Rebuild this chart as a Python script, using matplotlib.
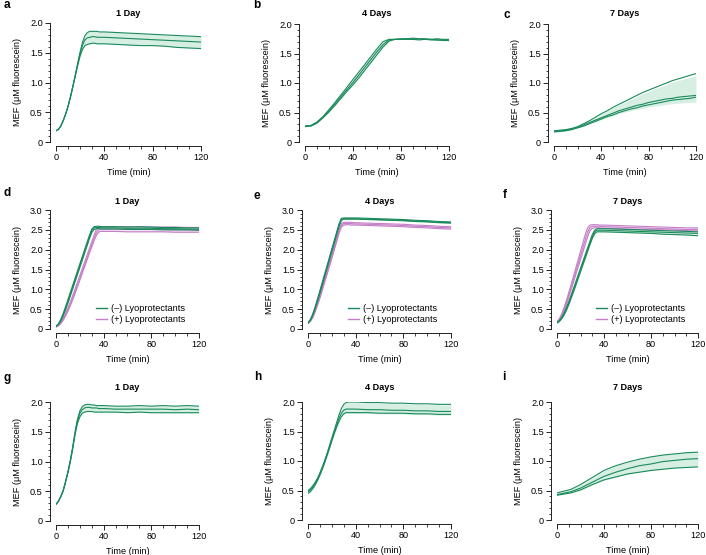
import numpy as np
import matplotlib
matplotlib.use("Agg")
import matplotlib.pyplot as plt
from matplotlib.ticker import MultipleLocator
from matplotlib.lines import Line2D

plt.rcParams['font.family'] = ['Liberation Sans', 'DejaVu Sans']

# ---------------- data ----------------
t_fast = [0, 2, 4, 6, 8, 10, 12, 14, 16, 18, 20, 22, 24, 26, 28, 30, 32, 34, 36, 38,
          40, 50, 60, 70, 80, 90, 100, 110, 120]
t_slow = [0, 5, 10, 15, 20, 25, 30, 35, 40, 45, 50, 55, 60, 65, 70, 75, 80, 85, 90,
          95, 100, 105, 110, 115, 120]
t_i = [0, 12, 20, 30, 40, 50, 60, 70, 80, 90, 100, 110, 120]

titles = ["1 Day", "4 Days", "7 Days"]
letters = ["a", "b", "c", "d", "e", "f", "g", "h", "i"]
legend_labels = ["(\u2013) Lyoprotectants", "(+) Lyoprotectants"]

# panel a
a_rep1 = [0.19, 0.21, 0.27, 0.36, 0.47, 0.60, 0.76, 0.94, 1.13, 1.33, 1.52, 1.68, 1.79, 1.84, 1.86, 1.86, 1.86, 1.86, 1.85, 1.85,
          1.85, 1.84, 1.83, 1.82, 1.81, 1.80, 1.79, 1.78, 1.77]
a_rep2 = [0.19, 0.21, 0.27, 0.36, 0.47, 0.60, 0.76, 0.94, 1.12, 1.31, 1.49, 1.63, 1.72, 1.75, 1.76, 1.77, 1.77, 1.76, 1.76, 1.76,
          1.76, 1.75, 1.74, 1.73, 1.72, 1.71, 1.70, 1.69, 1.68]
a_rep3 = [0.19, 0.21, 0.27, 0.36, 0.47, 0.60, 0.76, 0.93, 1.11, 1.29, 1.45, 1.56, 1.62, 1.64, 1.65, 1.66, 1.66, 1.65, 1.65, 1.65,
          1.65, 1.64, 1.63, 1.62, 1.62, 1.61, 1.59, 1.58, 1.57]
# panel b
b_rep1 = [0.27, 0.28, 0.34, 0.43, 0.55, 0.67, 0.80, 0.93, 1.06, 1.19, 1.32, 1.45, 1.58, 1.70, 1.74, 1.74, 1.75, 1.75, 1.76,
          1.75, 1.75, 1.74, 1.75, 1.74, 1.74]
b_rep2 = [0.27, 0.28, 0.33, 0.42, 0.53, 0.65, 0.77, 0.89, 1.01, 1.14, 1.27, 1.40, 1.53, 1.65, 1.73, 1.74, 1.74, 1.75, 1.74,
          1.75, 1.74, 1.74, 1.73, 1.73, 1.73]
b_rep3 = [0.26, 0.27, 0.32, 0.41, 0.51, 0.62, 0.74, 0.86, 0.97, 1.09, 1.22, 1.35, 1.48, 1.61, 1.71, 1.74, 1.74, 1.74, 1.74,
          1.73, 1.74, 1.73, 1.73, 1.72, 1.72]
# panel c
c_rep1 = [0.19, 0.20, 0.21, 0.23, 0.26, 0.31, 0.36, 0.42, 0.48, 0.53, 0.59, 0.64, 0.69, 0.74, 0.79, 0.84, 0.88, 0.92, 0.96,
          1.00, 1.04, 1.07, 1.10, 1.13, 1.16]
c_rep2 = [0.18, 0.19, 0.20, 0.22, 0.25, 0.29, 0.33, 0.37, 0.41, 0.45, 0.49, 0.53, 0.56, 0.59, 0.62, 0.64, 0.67, 0.69, 0.71,
          0.73, 0.74, 0.76, 0.77, 0.78, 0.79]
c_rep3 = [0.17, 0.18, 0.19, 0.21, 0.24, 0.27, 0.31, 0.35, 0.39, 0.43, 0.46, 0.50, 0.53, 0.56, 0.58, 0.61, 0.63, 0.65, 0.67,
          0.69, 0.71, 0.72, 0.73, 0.74, 0.76]
# panel d
d_minus1 = [0.07, 0.13, 0.24, 0.39, 0.56, 0.74, 0.92, 1.10, 1.28, 1.46, 1.64, 1.82, 2.00, 2.18, 2.36, 2.52, 2.58, 2.59, 2.59, 2.58,
            2.58, 2.58, 2.57, 2.58, 2.57, 2.56, 2.56, 2.55, 2.55]
d_minus2 = [0.07, 0.12, 0.22, 0.36, 0.52, 0.70, 0.88, 1.06, 1.24, 1.42, 1.60, 1.78, 1.96, 2.14, 2.32, 2.48, 2.55, 2.56, 2.56, 2.55,
            2.55, 2.55, 2.54, 2.54, 2.54, 2.53, 2.53, 2.52, 2.52]
d_minus3 = [0.06, 0.11, 0.20, 0.33, 0.48, 0.65, 0.83, 1.01, 1.19, 1.37, 1.55, 1.73, 1.91, 2.09, 2.27, 2.43, 2.51, 2.53, 2.53, 2.52,
            2.52, 2.52, 2.51, 2.51, 2.51, 2.50, 2.50, 2.50, 2.49]
d_plus1 = [0.06, 0.10, 0.17, 0.27, 0.39, 0.53, 0.68, 0.84, 1.01, 1.18, 1.35, 1.52, 1.69, 1.86, 2.03, 2.20, 2.37, 2.52, 2.58, 2.58,
           2.58, 2.58, 2.58, 2.57, 2.57, 2.57, 2.57, 2.56, 2.56]
d_plus2 = [0.06, 0.09, 0.15, 0.24, 0.35, 0.48, 0.62, 0.77, 0.93, 1.10, 1.27, 1.44, 1.61, 1.78, 1.95, 2.12, 2.29, 2.44, 2.51, 2.52,
           2.52, 2.52, 2.52, 2.51, 2.51, 2.51, 2.50, 2.50, 2.50]
d_plus3 = [0.05, 0.08, 0.14, 0.22, 0.33, 0.45, 0.59, 0.74, 0.90, 1.06, 1.23, 1.40, 1.57, 1.74, 1.91, 2.07, 2.23, 2.37, 2.45, 2.46,
           2.46, 2.46, 2.45, 2.45, 2.45, 2.45, 2.44, 2.44, 2.44]
# panel e
e_minus1 = [0.16, 0.24, 0.38, 0.56, 0.76, 0.97, 1.18, 1.39, 1.60, 1.81, 2.02, 2.23, 2.44, 2.65, 2.79, 2.80, 2.80, 2.80, 2.80, 2.80,
            2.80, 2.79, 2.78, 2.77, 2.76, 2.74, 2.73, 2.71, 2.70]
e_minus2 = [0.15, 0.23, 0.36, 0.53, 0.73, 0.93, 1.14, 1.35, 1.56, 1.77, 1.98, 2.19, 2.40, 2.61, 2.76, 2.78, 2.78, 2.78, 2.78, 2.78,
            2.78, 2.77, 2.76, 2.75, 2.74, 2.72, 2.71, 2.69, 2.68]
e_minus3 = [0.15, 0.22, 0.34, 0.51, 0.70, 0.90, 1.11, 1.32, 1.53, 1.74, 1.95, 2.16, 2.37, 2.58, 2.74, 2.77, 2.77, 2.77, 2.77, 2.77,
            2.77, 2.76, 2.75, 2.74, 2.73, 2.71, 2.70, 2.68, 2.67]
e_plus1 = [0.15, 0.21, 0.32, 0.47, 0.65, 0.85, 1.05, 1.25, 1.45, 1.66, 1.87, 2.08, 2.29, 2.50, 2.66, 2.69, 2.69, 2.69, 2.69, 2.68,
           2.68, 2.67, 2.66, 2.65, 2.64, 2.62, 2.61, 2.59, 2.58]
e_plus2 = [0.15, 0.20, 0.30, 0.45, 0.62, 0.81, 1.01, 1.21, 1.41, 1.61, 1.82, 2.03, 2.24, 2.45, 2.62, 2.66, 2.66, 2.66, 2.66, 2.65,
           2.65, 2.64, 2.63, 2.62, 2.61, 2.59, 2.58, 2.56, 2.55]
e_plus3 = [0.14, 0.19, 0.29, 0.43, 0.60, 0.78, 0.98, 1.18, 1.38, 1.58, 1.78, 1.99, 2.20, 2.41, 2.57, 2.62, 2.63, 2.63, 2.62, 2.62,
           2.62, 2.61, 2.60, 2.59, 2.58, 2.56, 2.55, 2.53, 2.52]
# panel f
f_minus1 = [0.17, 0.21, 0.29, 0.40, 0.54, 0.69, 0.85, 1.02, 1.19, 1.36, 1.53, 1.70, 1.87, 2.04, 2.21, 2.38, 2.49, 2.53, 2.53, 2.53,
            2.53, 2.52, 2.51, 2.50, 2.49, 2.48, 2.47, 2.46, 2.45]
f_minus2 = [0.16, 0.20, 0.27, 0.37, 0.50, 0.65, 0.81, 0.98, 1.15, 1.32, 1.49, 1.66, 1.83, 2.00, 2.17, 2.33, 2.45, 2.49, 2.49, 2.49,
            2.49, 2.48, 2.47, 2.46, 2.45, 2.44, 2.43, 2.42, 2.41]
f_minus3 = [0.15, 0.19, 0.26, 0.35, 0.47, 0.61, 0.77, 0.93, 1.10, 1.27, 1.44, 1.61, 1.78, 1.95, 2.12, 2.28, 2.40, 2.45, 2.45, 2.45,
            2.45, 2.44, 2.43, 2.42, 2.41, 2.39, 2.38, 2.37, 2.35]
f_plus1 = [0.18, 0.26, 0.38, 0.54, 0.72, 0.92, 1.12, 1.33, 1.54, 1.75, 1.96, 2.17, 2.38, 2.55, 2.62, 2.63, 2.63, 2.63, 2.62, 2.62,
           2.62, 2.61, 2.60, 2.59, 2.58, 2.57, 2.56, 2.55, 2.55]
f_plus2 = [0.17, 0.24, 0.35, 0.50, 0.67, 0.86, 1.05, 1.25, 1.45, 1.65, 1.85, 2.05, 2.25, 2.44, 2.56, 2.59, 2.59, 2.59, 2.59, 2.58,
           2.58, 2.57, 2.56, 2.55, 2.54, 2.53, 2.52, 2.51, 2.51]
f_plus3 = [0.16, 0.22, 0.32, 0.46, 0.62, 0.80, 0.99, 1.18, 1.37, 1.56, 1.75, 1.94, 2.13, 2.32, 2.48, 2.54, 2.55, 2.55, 2.55, 2.54,
           2.54, 2.53, 2.52, 2.51, 2.50, 2.50, 2.49, 2.48, 2.47]
# panel g
g_rep1 = [0.28, 0.33, 0.41, 0.51, 0.66, 0.83, 1.02, 1.24, 1.50, 1.71, 1.85, 1.92, 1.95, 1.96, 1.96, 1.95, 1.95, 1.94, 1.94, 1.94,
          1.94, 1.93, 1.93, 1.94, 1.93, 1.94, 1.93, 1.94, 1.93]
g_rep2 = [0.28, 0.33, 0.41, 0.51, 0.66, 0.82, 1.01, 1.23, 1.48, 1.68, 1.81, 1.87, 1.90, 1.91, 1.91, 1.90, 1.90, 1.90, 1.89, 1.89,
          1.89, 1.88, 1.88, 1.88, 1.88, 1.88, 1.87, 1.88, 1.87]
g_rep3 = [0.28, 0.33, 0.41, 0.50, 0.65, 0.81, 0.99, 1.21, 1.45, 1.64, 1.75, 1.81, 1.83, 1.84, 1.84, 1.84, 1.83, 1.83, 1.83, 1.83,
          1.83, 1.83, 1.82, 1.83, 1.82, 1.82, 1.82, 1.82, 1.82]
# panel h
h_rep1 = [0.50, 0.53, 0.58, 0.64, 0.71, 0.80, 0.90, 1.01, 1.13, 1.26, 1.39, 1.52, 1.65, 1.78, 1.89, 1.96, 1.99, 2.00, 2.00, 2.00,
          2.00, 1.99, 1.99, 1.98, 1.98, 1.97, 1.97, 1.96, 1.96]
h_rep2 = [0.48, 0.51, 0.56, 0.62, 0.69, 0.78, 0.88, 0.99, 1.11, 1.23, 1.36, 1.49, 1.61, 1.72, 1.81, 1.86, 1.88, 1.88, 1.88, 1.88,
          1.88, 1.87, 1.87, 1.86, 1.86, 1.85, 1.85, 1.84, 1.84]
h_rep3 = [0.45, 0.48, 0.53, 0.59, 0.67, 0.76, 0.86, 0.97, 1.09, 1.21, 1.34, 1.46, 1.57, 1.67, 1.75, 1.80, 1.82, 1.82, 1.82, 1.82,
          1.82, 1.82, 1.81, 1.81, 1.81, 1.80, 1.80, 1.79, 1.79]
# panel i
i_rep1 = [0.46, 0.52, 0.60, 0.72, 0.84, 0.92, 0.98, 1.03, 1.07, 1.10, 1.12, 1.14, 1.15]
i_rep2 = [0.43, 0.48, 0.54, 0.64, 0.74, 0.81, 0.87, 0.92, 0.95, 0.99, 1.01, 1.03, 1.04]
i_rep3 = [0.42, 0.46, 0.51, 0.60, 0.68, 0.73, 0.78, 0.81, 0.84, 0.86, 0.88, 0.89, 0.90]

# ---------------- style ----------------
GREEN = "#1a8a5c"
GREEN_FILL = "#d6efe2"
PURPLE = "#c47fc8"
PURPLE_FILL = "#f3e1f2"
FS = 6.6

W, H = 706, 555
# (x0, y_top, width, height) in pixels
boxes = [
    (56, 23, 145, 119), (305, 24, 144, 118), (554, 24, 142, 118),
    (56, 210, 143, 119), (308, 210, 143, 119), (557, 210, 141, 119),
    (56, 402, 143, 119), (308, 402, 143, 118), (557, 402, 141, 118),
]
letter_pos = [(4, 5), (253, 5), (504, 15), (4, 193), (253, 196), (503, 195),
              (4, 378), (254, 377), (502, 377)]
title_y = [14, 201, 387]

fig = plt.figure(figsize=(W / 100, H / 100), dpi=100)


def make_ax(k, ymax):
    x0, yt, w, h = boxes[k]
    ax = fig.add_axes([x0 / W, 1 - (yt + h) / H, w / W, h / H])
    ax.set_xlim(0, 120)
    ax.set_ylim(0, ymax)
    for s in ["top", "right"]:
        ax.spines[s].set_visible(False)
    ax.spines["left"].set_position(("outward", 4.5))
    ax.spines["bottom"].set_position(("outward", 3))
    for s in ["left", "bottom"]:
        ax.spines[s].set_linewidth(0.7)
        ax.spines[s].set_color("#222222")
    ax.xaxis.set_major_locator(MultipleLocator(40))
    ax.xaxis.set_minor_locator(MultipleLocator(10))
    ax.yaxis.set_major_locator(MultipleLocator(0.5))
    ax.yaxis.set_minor_locator(MultipleLocator(0.1))
    ax.tick_params(which="major", length=3.5, width=0.7, labelsize=FS, pad=1.5, color="#222222")
    ax.tick_params(which="minor", length=1.8, width=0.6, color="#222222")
    ax.yaxis.set_major_formatter(plt.FuncFormatter(lambda v, p: "0" if v == 0 else f"{v:.1f}"))
    ax.set_xlabel("Time (min)", fontsize=FS, labelpad=4)
    ax.set_ylabel("MEF (\u03bcM fluorescein)", fontsize=FS, labelpad=6)
    fig.text((x0 + w / 2) / W, 1 - title_y[k // 3] / H, titles[k % 3], fontsize=FS,
             fontweight="bold", ha="center", va="center")
    lx, ly = letter_pos[k]
    fig.text(lx / W, 1 - ly / H, letters[k], fontsize=8.5, fontweight="bold", ha="left", va="center")
    return ax


def group(ax, t, reps, color, fill):
    arr = np.array(reps)
    m = arr.mean(axis=0)
    sd = arr.std(axis=0, ddof=1)
    ax.fill_between(t, m - sd, m + sd, color=fill, lw=0, zorder=1)
    for r in reps:
        ax.plot(t, r, color=color, lw=0.8, zorder=3)


single = [
    (t_fast, [a_rep1, a_rep2, a_rep3], 2.0),
    (t_slow, [b_rep1, b_rep2, b_rep3], 2.0),
    (t_slow, [c_rep1, c_rep2, c_rep3], 2.0),
]
pairs = [
    (t_fast, [d_minus1, d_minus2, d_minus3], [d_plus1, d_plus2, d_plus3]),
    (t_fast, [e_minus1, e_minus2, e_minus3], [e_plus1, e_plus2, e_plus3]),
    (t_fast, [f_minus1, f_minus2, f_minus3], [f_plus1, f_plus2, f_plus3]),
]
bottom = [
    (t_fast, [g_rep1, g_rep2, g_rep3], 2.0),
    (t_fast, [h_rep1, h_rep2, h_rep3], 2.0),
    (t_i, [i_rep1, i_rep2, i_rep3], 2.0),
]

for j, (t, reps, ym) in enumerate(single):
    ax = make_ax(j, ym)
    group(ax, t, reps, GREEN, GREEN_FILL)

for j, (t, minus, plus) in enumerate(pairs):
    ax = make_ax(3 + j, 3.0)
    group(ax, t, plus, PURPLE, PURPLE_FILL)
    group(ax, t, minus, GREEN, GREEN_FILL)
    handles = [Line2D([], [], color=GREEN, lw=1.0), Line2D([], [], color=PURPLE, lw=1.0)]
    ax.legend(handles, legend_labels, loc="lower left", bbox_to_anchor=(0.28, 0.04),
              frameon=False, fontsize=FS, handlelength=1.2, handletextpad=0.4,
              labelspacing=0.2, borderpad=0, borderaxespad=0)

for j, (t, reps, ym) in enumerate(bottom):
    ax = make_ax(6 + j, ym)
    group(ax, t, reps, GREEN, GREEN_FILL)

fig.savefig("out.png", dpi=100)
